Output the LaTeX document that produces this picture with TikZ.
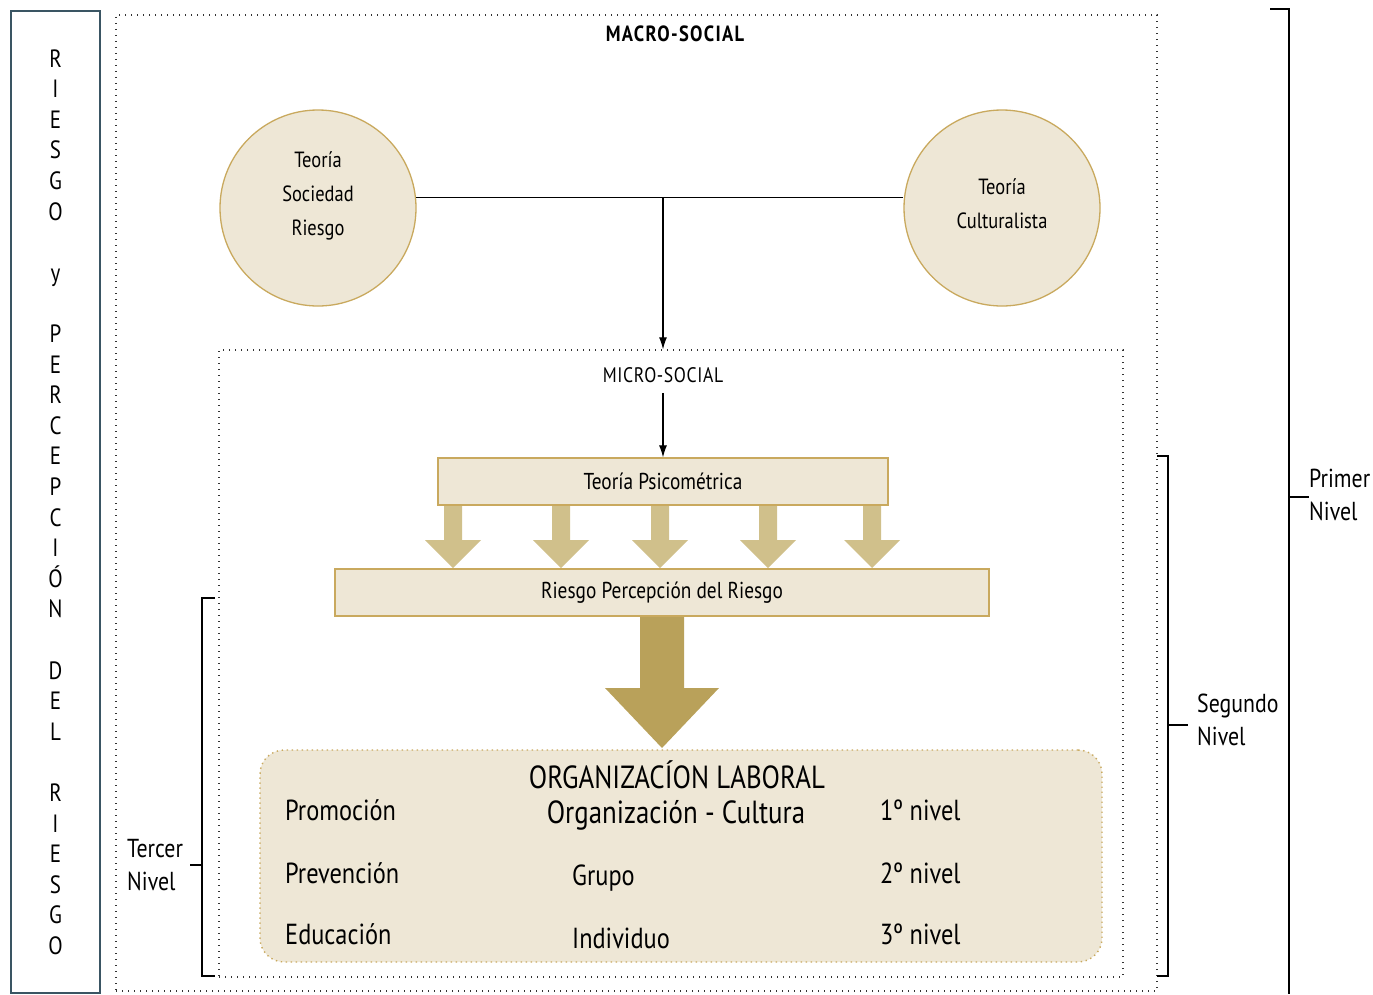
\documentclass[tikz,border=0pt]{standalone}
\usepackage{fontspec}
\setmainfont{PT Sans}[FakeStretch=0.84]
\usetikzlibrary{arrows.meta}
\definecolor{cfill}{HTML}{EEE7D6}
\definecolor{cgold}{HTML}{C9A95E}
\definecolor{carrowl}{HTML}{D0C08B}
\definecolor{carrowd}{HTML}{B9A15A}
\definecolor{cslate}{HTML}{3A5563}
\begin{document}
\begin{tikzpicture}[x=1pt,y=-1pt,
 dotbox/.style={draw=black!80, line width=1.4pt, dash pattern=on 1.4pt off 4.6pt, minimum width=#1, inner sep=0pt},
 circ/.style={circle, draw=cgold, line width=1.3pt, fill=cfill, minimum size=196pt, inner sep=0pt},
 circtxt/.style={align=center, inner sep=0pt, font=\fontsize{22}{34}\selectfont},
 bar/.style={draw=cgold, line width=1.3pt, fill=cfill, inner sep=0pt, font=\fontsize{23}{26}\selectfont},
 lbl/.style={font=\fontsize{26}{33}\selectfont, align=left, inner sep=0pt},
 orgtxt/.style={font=\fontsize{29}{32}\selectfont, inner sep=0pt},
 orghead/.style={font=\fontsize{32}{36}\selectfont, inner sep=0pt},
 brk/.style={line width=1.5pt},
 conn/.style={line width=1.1pt, -{Latex[length=12pt,width=8pt]}},
 fatl/.style={fill=carrowl, draw=none},
 fatd/.style={fill=carrowd, draw=none}
]
\useasboundingbox (0,0) rectangle (1373,994);

% left vertical title
\node[draw=cslate, line width=1.6pt, minimum width=89pt, minimum height=982pt, inner sep=0pt,
      align=center, font=\fontsize{25}{30.6}\selectfont] (side) at (55.5,502)
 {R\\I\\E\\S\\G\\O\\\strut\\y\\\strut\\P\\E\\R\\C\\E\\P\\C\\I\\Ó\\N\\\strut\\D\\E\\L\\\strut\\R\\I\\E\\S\\G\\O};

% macro box
\node[dotbox=1041pt, minimum height=976pt] (macro) at (636.5,503) {};
\node[font=\fontsize{22}{26}\selectfont\bfseries\addfontfeatures{LetterSpace=6}, inner sep=0pt] (macrolbl) at (675,34) {MACRO-SOCIAL};

% circles
\node[circ] (c1) at (318,208) {};
\node[circtxt] (c1t) at (318,196) {Teoría\\Sociedad\\Riesgo};
\node[circ] (c2) at (1002,208) {};
\node[circtxt] (c2t) at (1002,204) {Teoría\\Culturalista};
\coordinate (j) at (663,197);
\draw[line width=1.3pt] (c1.6.4) -- (c1.6.4 -| c2.west);

% micro box
\node[dotbox=904pt, minimum height=627pt] (micro) at (671,663.5) {};
\draw[conn] (j) -- (j |- micro.north);
\node[font=\fontsize{21}{24}\selectfont\addfontfeatures{LetterSpace=3}, inner sep=0pt] (microlbl) at (663,375) {MICRO-SOCIAL};

% bars
\node[bar, minimum width=450pt, minimum height=47pt] (psi) at (663,481.5) {Teoría Psicométrica};
\node[bar, minimum width=654pt, minimum height=47pt] (rpr) at (662,592.5) {Riesgo Percepción del Riesgo};
\draw[conn] (microlbl.south) ++(0,10) -- (psi.north);

% small fat arrows
\foreach \ax in {453,561,660,768,872}{
  \fill[fatl] (\ax-9,506) -- (\ax+9,506) -- (\ax+9,540) -- (\ax+28,540) -- (\ax,568) -- (\ax-28,540) -- (\ax-9,540) -- cycle;
}
% big arrow
\fill[fatd] (640,617) -- (684,617) -- (684,688) -- (719,688) -- (662,748) -- (605,688) -- (640,688) -- cycle;

% organization box
\node[draw=cgold, line width=1.4pt, dash pattern=on 1.4pt off 3.6pt, fill=cfill, rounded corners=24pt,
      minimum width=842pt, minimum height=212pt, inner sep=0pt] (org) at (681,856) {};
\node[orghead] (ol) at (677,775) {ORGANIZACÍON LABORAL};
\node[orghead] (oc) at (676,815) {Organización - Cultura};
\node[orgtxt, anchor=west] (p1) at (285,810) {Promoción};
\node[orgtxt, anchor=west] (p2) at (285,873) {Prevención};
\node[orgtxt, anchor=west] (p3) at (285,934) {Educación};
\node[orgtxt, anchor=west] (g2) at (572,878) {Grupo};
\node[orgtxt, anchor=west] (g3) at (572,938) {Individuo};
\node[orgtxt, anchor=west] (n1) at (880,810) {1º nivel};
\node[orgtxt, anchor=west] (n2) at (880,873) {2º nivel};
\node[orgtxt, anchor=west] (n3) at (880,934) {3º nivel};

% brackets
\node[lbl, anchor=west] (primer) at (1309,495) {Primer\\Nivel};
\draw[brk] (1270,9) -- (1289,9) -- (1289,994);
\coordinate (tp) at (1289,497);
\draw[brk] (tp) -- (primer.west |- tp);

\node[lbl, anchor=west] (segundo) at (1197,720) {Segundo\\Nivel};
\draw[brk] (1157,456) -- (1168,456) -- (1168,976) -- (1157,976);
\coordinate (ts) at (1168,725);
\draw[brk] (ts) -- ([xshift=-9pt]segundo.west |- ts);

\node[lbl, anchor=west] (tercer) at (127,865) {Tercer\\Nivel};
\draw[brk] (215,598) -- (202,598) -- (202,976) -- (215,976);
\coordinate (tt) at (202,865);
\draw[brk] (tt) -- (190,865);
\end{tikzpicture}
\end{document}
